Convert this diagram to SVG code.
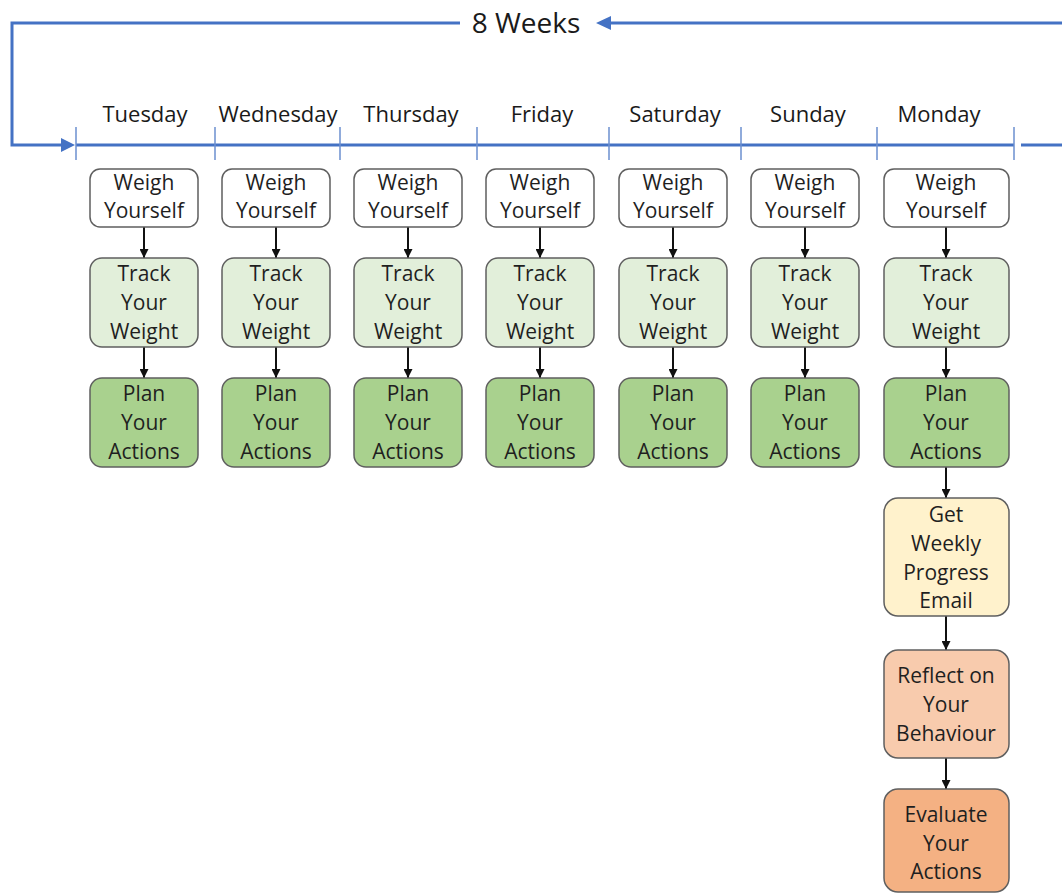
<svg xmlns="http://www.w3.org/2000/svg" width="1062" height="894" viewBox="0 0 1062 894">
  <style>
    .bg { fill: #ffffff; }
    .blue { stroke: #4472c4; stroke-width: 3; fill: none; }
    .tick { stroke: #6b8fcf; stroke-width: 1.5; }
    .day { font-family: "Open Sans", "Liberation Sans", sans-serif; font-size: 22px; fill: #1a1a1a; text-anchor: middle; }
    .title { font-family: "Open Sans", "Liberation Sans", sans-serif; font-size: 28px; fill: #1a1a1a; text-anchor: middle; }
    .box { stroke: #5f5f5f; stroke-width: 1.5; }
    .weigh { fill: #ffffff; }
    .track { fill: #e2efda; }
    .plan { fill: #a9d18e; }
    .email { fill: #fff2cc; }
    .reflect { fill: #f8cbad; }
    .evaluate { fill: #f4b183; }
    .lbl { font-family: "Open Sans", "Liberation Sans", sans-serif; font-size: 21px; fill: #1f1f1f; text-anchor: middle; }
    .flow { stroke: #111111; stroke-width: 2; fill: none; marker-end: url(#down); }
  </style>
  <defs>
    <marker id="down" viewBox="0 0 10 10" refX="10" refY="5" markerWidth="4.5" markerHeight="4.5" orient="auto" markerUnits="strokeWidth">
      <path d="M0,0 L10,5 L0,10 z" fill="#111111"/>
    </marker>
    <g id="col">
      <rect class="box weigh" x="-54" y="169" width="108" height="58" rx="10"/>
      <rect class="box track" x="-54" y="258" width="108" height="89" rx="12"/>
      <rect class="box plan" x="-54" y="378" width="108" height="89" rx="12"/>
    </g>
  </defs>
  <rect class="bg" x="0" y="0" width="1062" height="894"/>

  <!-- repeating loop and week timeline -->
  <g id="timeline">
    <path class="blue" d="M1062,23 H609"/>
    <path d="M596,23 L611,16 L611,30 z" fill="#4472c4"/>
    <path class="blue" d="M460,23 H12 V145 H62"/>
    <path d="M75,145 L61,138 L61,152 z" fill="#4472c4"/>
    <path class="blue" d="M76,145 H1014"/>
    <path class="blue" d="M1021,145 H1062"/>
    <line class="tick" x1="76" y1="127" x2="76" y2="160"/>
    <line class="tick" x1="215" y1="127" x2="215" y2="160"/>
    <line class="tick" x1="340" y1="127" x2="340" y2="160"/>
    <line class="tick" x1="477" y1="127" x2="477" y2="160"/>
    <line class="tick" x1="609" y1="127" x2="609" y2="160"/>
    <line class="tick" x1="741" y1="127" x2="741" y2="160"/>
    <line class="tick" x1="877" y1="127" x2="877" y2="160"/>
    <line class="tick" x1="1014" y1="127" x2="1014" y2="160"/>
    <text class="title" x="526" y="33">8 Weeks</text>
    <text class="day" x="145" y="122">Tuesday</text>
    <text class="day" x="278" y="122">Wednesday</text>
    <text class="day" x="411" y="122">Thursday</text>
    <text class="day" x="542" y="122">Friday</text>
    <text class="day" x="675" y="122">Saturday</text>
    <text class="day" x="808" y="122">Sunday</text>
    <text class="day" x="939" y="122">Monday</text>
  </g>

  <!-- connectors between steps -->
  <g id="connectors">
    <path class="flow" d="M144,227 V258"/><path class="flow" d="M144,347 V378"/>
    <path class="flow" d="M276,227 V258"/><path class="flow" d="M276,347 V378"/>
    <path class="flow" d="M408,227 V258"/><path class="flow" d="M408,347 V378"/>
    <path class="flow" d="M540,227 V258"/><path class="flow" d="M540,347 V378"/>
    <path class="flow" d="M673,227 V258"/><path class="flow" d="M673,347 V378"/>
    <path class="flow" d="M805,227 V258"/><path class="flow" d="M805,347 V378"/>
    <path class="flow" d="M946,227 V258"/><path class="flow" d="M946,347 V378"/>
    <path class="flow" d="M946,467 V498"/>
    <path class="flow" d="M946,616 V650"/>
    <path class="flow" d="M946,758 V789"/>
  </g>

  <!-- Tuesday -->
  <g id="tuesday">
    <use href="#col" x="144"/>
    <text class="lbl"><tspan x="144" y="190">Weigh</tspan><tspan x="144" y="218">Yourself</tspan></text>
    <text class="lbl"><tspan x="144" y="281">Track</tspan><tspan x="144" y="310">Your</tspan><tspan x="144" y="339">Weight</tspan></text>
    <text class="lbl"><tspan x="144" y="401">Plan</tspan><tspan x="144" y="430">Your</tspan><tspan x="144" y="459">Actions</tspan></text>
  </g>
  <!-- Wednesday -->
  <g id="wednesday">
    <use href="#col" x="276"/>
    <text class="lbl"><tspan x="276" y="190">Weigh</tspan><tspan x="276" y="218">Yourself</tspan></text>
    <text class="lbl"><tspan x="276" y="281">Track</tspan><tspan x="276" y="310">Your</tspan><tspan x="276" y="339">Weight</tspan></text>
    <text class="lbl"><tspan x="276" y="401">Plan</tspan><tspan x="276" y="430">Your</tspan><tspan x="276" y="459">Actions</tspan></text>
  </g>
  <!-- Thursday -->
  <g id="thursday">
    <use href="#col" x="408"/>
    <text class="lbl"><tspan x="408" y="190">Weigh</tspan><tspan x="408" y="218">Yourself</tspan></text>
    <text class="lbl"><tspan x="408" y="281">Track</tspan><tspan x="408" y="310">Your</tspan><tspan x="408" y="339">Weight</tspan></text>
    <text class="lbl"><tspan x="408" y="401">Plan</tspan><tspan x="408" y="430">Your</tspan><tspan x="408" y="459">Actions</tspan></text>
  </g>
  <!-- Friday -->
  <g id="friday">
    <use href="#col" x="540"/>
    <text class="lbl"><tspan x="540" y="190">Weigh</tspan><tspan x="540" y="218">Yourself</tspan></text>
    <text class="lbl"><tspan x="540" y="281">Track</tspan><tspan x="540" y="310">Your</tspan><tspan x="540" y="339">Weight</tspan></text>
    <text class="lbl"><tspan x="540" y="401">Plan</tspan><tspan x="540" y="430">Your</tspan><tspan x="540" y="459">Actions</tspan></text>
  </g>
  <!-- Saturday -->
  <g id="saturday">
    <use href="#col" x="673"/>
    <text class="lbl"><tspan x="673" y="190">Weigh</tspan><tspan x="673" y="218">Yourself</tspan></text>
    <text class="lbl"><tspan x="673" y="281">Track</tspan><tspan x="673" y="310">Your</tspan><tspan x="673" y="339">Weight</tspan></text>
    <text class="lbl"><tspan x="673" y="401">Plan</tspan><tspan x="673" y="430">Your</tspan><tspan x="673" y="459">Actions</tspan></text>
  </g>
  <!-- Sunday -->
  <g id="sunday">
    <use href="#col" x="805"/>
    <text class="lbl"><tspan x="805" y="190">Weigh</tspan><tspan x="805" y="218">Yourself</tspan></text>
    <text class="lbl"><tspan x="805" y="281">Track</tspan><tspan x="805" y="310">Your</tspan><tspan x="805" y="339">Weight</tspan></text>
    <text class="lbl"><tspan x="805" y="401">Plan</tspan><tspan x="805" y="430">Your</tspan><tspan x="805" y="459">Actions</tspan></text>
  </g>
  <!-- Monday: daily steps plus the weekly review -->
  <g id="monday">
    <rect class="box weigh" x="884" y="169" width="125" height="58" rx="10"/>
    <rect class="box track" x="884" y="258" width="125" height="89" rx="12"/>
    <rect class="box plan" x="884" y="378" width="125" height="89" rx="12"/>
    <rect class="box email" x="884" y="498" width="125" height="118" rx="14"/>
    <rect class="box reflect" x="884" y="650" width="125" height="108" rx="14"/>
    <rect class="box evaluate" x="884" y="789" width="125" height="103" rx="14"/>
    <text class="lbl"><tspan x="946" y="190">Weigh</tspan><tspan x="946" y="218">Yourself</tspan></text>
    <text class="lbl"><tspan x="946" y="281">Track</tspan><tspan x="946" y="310">Your</tspan><tspan x="946" y="339">Weight</tspan></text>
    <text class="lbl"><tspan x="946" y="401">Plan</tspan><tspan x="946" y="430">Your</tspan><tspan x="946" y="459">Actions</tspan></text>
    <text class="lbl"><tspan x="946" y="522">Get</tspan><tspan x="946" y="551">Weekly</tspan><tspan x="946" y="580">Progress</tspan><tspan x="946" y="608">Email</tspan></text>
    <text class="lbl"><tspan x="946" y="683">Reflect on</tspan><tspan x="946" y="712">Your</tspan><tspan x="946" y="741">Behaviour</tspan></text>
    <text class="lbl"><tspan x="946" y="822">Evaluate</tspan><tspan x="946" y="851">Your</tspan><tspan x="946" y="879">Actions</tspan></text>
  </g>
</svg>
